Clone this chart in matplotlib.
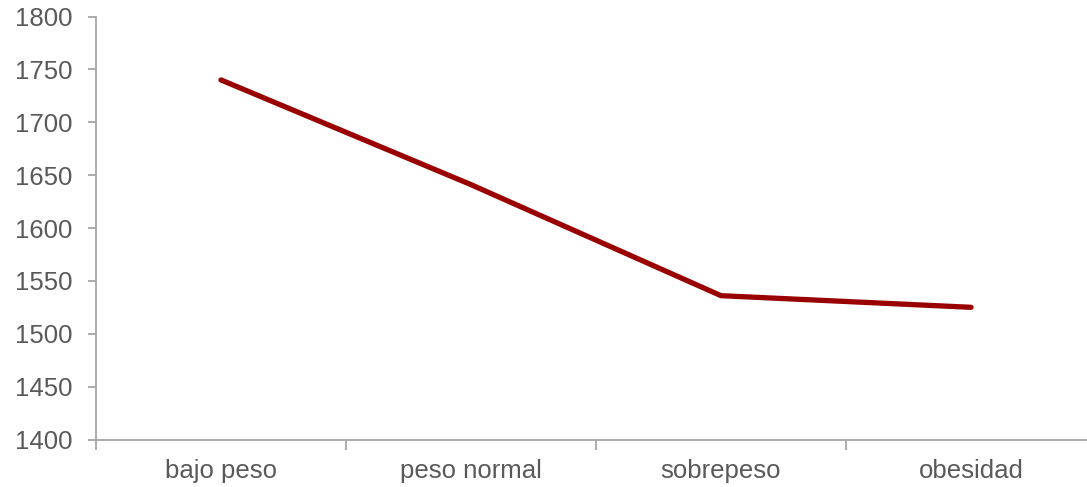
import matplotlib.pyplot as plt

plt.rcParams['font.family'] = ['Liberation Sans', 'DejaVu Sans']

categorias = ['bajo peso', 'peso normal', 'sobrepeso', 'obesidad']
valores = [1740, 1641, 1536, 1525]
yticks = [1400, 1450, 1500, 1550, 1600, 1650, 1700, 1750, 1800]

W, H = 1087, 487
fig = plt.figure(figsize=(W / 100, H / 100), dpi=100)
ax = fig.add_axes([96 / W, (H - 439.5) / H, 1000 / W, 423 / H])

x = [i + 0.5 for i in range(len(categorias))]
ax.plot(x, valores, color='#990000', linewidth=3.8, solid_capstyle='round',
        solid_joinstyle='round')

ax.set_xlim(0, len(categorias))
ax.set_ylim(1400, 1800)
ax.set_yticks(yticks)
ax.set_xticks(range(len(categorias) + 1))
ax.set_xticklabels([])
ax.set_xticks(x, minor=True)
ax.set_xticklabels(categorias, minor=True)

for s in ['top', 'right']:
    ax.spines[s].set_visible(False)
for s in ['left', 'bottom']:
    ax.spines[s].set_color('#a6a6a6')
    ax.spines[s].set_linewidth(1.3)

ax.tick_params(axis='both', which='major', color='#a6a6a6', width=1.3,
               length=6, labelsize=18.5, labelcolor='#595959')
ax.tick_params(axis='x', which='major', length=7)
ax.tick_params(axis='x', which='minor', length=0, pad=14, labelsize=18.5,
               labelcolor='#595959')
ax.tick_params(axis='y', pad=11)

fig.savefig('out.png', dpi=100)
